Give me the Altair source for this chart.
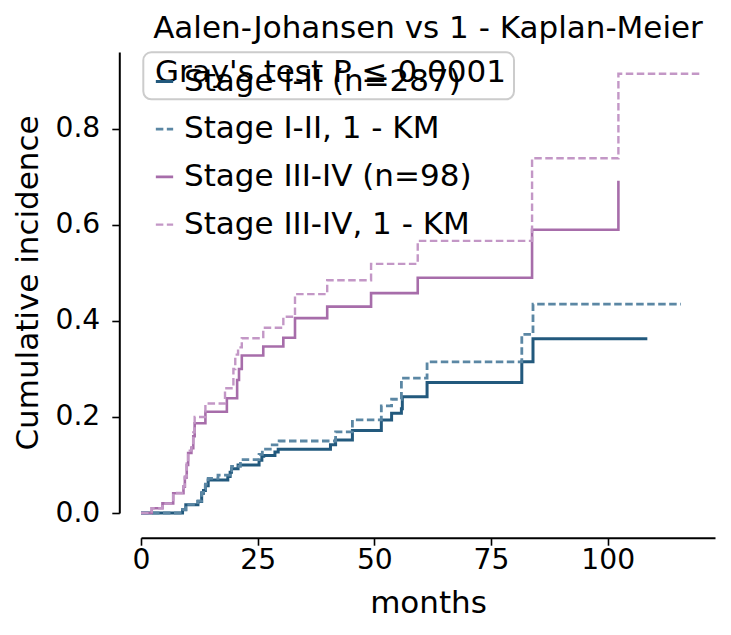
import altair as alt
import pandas as pd

series_names = ["Stage I-II (n=287)", "Stage I-II, 1 - KM", "Stage III-IV (n=98)", "Stage III-IV, 1 - KM"]
series_colors = ["#22597d", "#5b87a4", "#a76daa", "#c397c6"]

t_early_aj = [0, 8.9, 9.6, 12.2, 13.0, 13.4, 13.8, 14.4, 18.6, 19.1, 19.4, 20.8, 25.3, 25.9, 26.3, 28.7, 29.4,
              40.6, 41.7, 45.3, 51.5, 53.7, 55.8, 56.0, 61.3, 81.6, 84.0, 108.5]
v_early_aj = [0, 0.007, 0.017, 0.024, 0.041, 0.047, 0.057, 0.069, 0.076, 0.085, 0.092, 0.100, 0.110, 0.118, 0.120,
              0.127, 0.133, 0.142, 0.152, 0.172, 0.194, 0.208, 0.217, 0.242, 0.272, 0.315, 0.363, 0.363]

t_early_km = [0, 8.9, 9.6, 12.2, 13.0, 13.4, 13.8, 14.4, 16.5, 19.1, 19.4, 21.3, 25.3, 26.0, 27.7, 29.6,
              41.7, 45.3, 51.5, 53.7, 55.8, 61.3, 81.6, 84.0, 115.7]
v_early_km = [0, 0.007, 0.018, 0.025, 0.043, 0.050, 0.060, 0.072, 0.079, 0.088, 0.097, 0.111, 0.122, 0.133, 0.142,
              0.150, 0.169, 0.194, 0.223, 0.237, 0.281, 0.315, 0.372, 0.435, 0.435]

t_late_aj = [0, 2.3, 4.6, 6.9, 9.1, 9.4, 9.8, 10.1, 10.8, 11.2, 11.5, 13.8, 18.4, 20.6, 21.0, 21.6, 26.2, 30.5,
             33.0, 39.9, 49.3, 59.3, 83.8, 102.3]
v_late_aj = [0, 0.010, 0.020, 0.041, 0.055, 0.074, 0.100, 0.125, 0.135, 0.160, 0.187, 0.211, 0.239, 0.277, 0.300,
             0.328, 0.347, 0.365, 0.406, 0.430, 0.458, 0.490, 0.590, 0.692]

t_late_km = [0, 2.3, 4.6, 6.9, 9.1, 9.4, 9.8, 10.1, 10.8, 11.2, 11.5, 13.8, 18.0, 19.8, 20.2, 20.8, 21.6, 26.2,
             30.5, 33.0, 39.9, 49.3, 59.3, 83.8, 102.3, 120.3]
v_late_km = [0, 0.010, 0.020, 0.042, 0.056, 0.076, 0.103, 0.130, 0.142, 0.168, 0.200, 0.228, 0.260, 0.300, 0.330,
             0.345, 0.364, 0.386, 0.409, 0.456, 0.485, 0.519, 0.567, 0.739, 0.915, 0.915]

x_ticks = [0, 25, 50, 75, 100]
y_ticks = [0.0, 0.2, 0.4, 0.6, 0.8]

rows = []
for name, ts, vs in zip(series_names,
                        [t_early_aj, t_early_km, t_late_aj, t_late_km],
                        [v_early_aj, v_early_km, v_late_aj, v_late_km]):
    for t, v in zip(ts, vs):
        rows.append({"series": name, "months": t, "ci": v})
df = pd.DataFrame(rows)

FONT = "DejaVu Sans"
FS = 28.2   # tick labels
FB = 31.0   # titles, legend, annotation

common_axis = dict(tickSize=7.5, tickWidth=1.6, domainWidth=2, domainColor="black", tickColor="black",
                   labelColor="black", titleColor="black", labelFontSize=FS, titleFontSize=FB,
                   labelFont=FONT, titleFont=FONT, titleFontWeight="normal", grid=False, labelFlush=False)

lines = alt.Chart(df).mark_line(interpolate="step-after").encode(
    x=alt.X("months:Q", scale=alt.Scale(domain=[0, 123], nice=False, zero=False),
            axis=alt.Axis(values=x_ticks, title="months", offset=24.7, labelPadding=1, titlePadding=15,
                          **common_axis)),
    y=alt.Y("ci:Q", scale=alt.Scale(domain=[0, 0.9604], nice=False),
            axis=alt.Axis(values=y_ticks, format=".1f", title="Cumulative incidence", offset=21.7,
                          labelPadding=12, titlePadding=10, **common_axis)),
    color=alt.Color("series:N", scale=alt.Scale(domain=series_names, range=series_colors),
                    sort=series_names,
                    legend=alt.Legend(orient="none", legendX=8, legendY=14, title="",
                                      labelFontSize=FB, labelFont=FONT, labelColor="black",
                                      labelLimit=600, symbolType="stroke", symbolSize=300,
                                      symbolStrokeWidth=3, labelOffset=4, rowPadding=15.7,
                                      padding=0)),
    strokeDash=alt.StrokeDash("series:N",
                              scale=alt.Scale(domain=series_names,
                                              range=[[1, 0], [7.5, 3.5], [1, 0], [7.5, 3.5]]),
                              sort=series_names),
    strokeWidth=alt.StrokeWidth("series:N",
                                scale=alt.Scale(domain=series_names, range=[3, 2.4, 3, 2.4]),
                                sort=series_names),
    order=alt.Order("months:Q"),
)

box = alt.Chart().mark_rect(cornerRadius=8, fill="white", fillOpacity=0.8, stroke="#cccccc",
                            strokeWidth=2).encode(
    x=alt.value(2.3), x2=alt.value(373), y=alt.value(0.3), y2=alt.value(47.3))

note = alt.Chart().mark_text(text="Gray's test P \u2264 0.0001", align="left", baseline="alphabetic",
                             font=FONT, fontSize=FB, color="black").encode(
    x=alt.value(14), y=alt.value(30))

chart = alt.layer(lines, box, note).properties(
    width=574, height=461,
    padding={"left": 133, "top": 44, "right": 8, "bottom": 106},
    autosize=alt.AutoSizeParams(type="none"),
    background="white",
    title=alt.TitleParams("Aalen-Johansen vs 1 - Kaplan-Meier", fontSize=FB, font=FONT,
                          fontWeight="normal", anchor="middle", baseline="alphabetic", offset=-18,
                          color="black"),
).configure_view(strokeWidth=0, stroke="transparent")

chart.save("out.html", embed_options={"renderer": "svg", "actions": False})
